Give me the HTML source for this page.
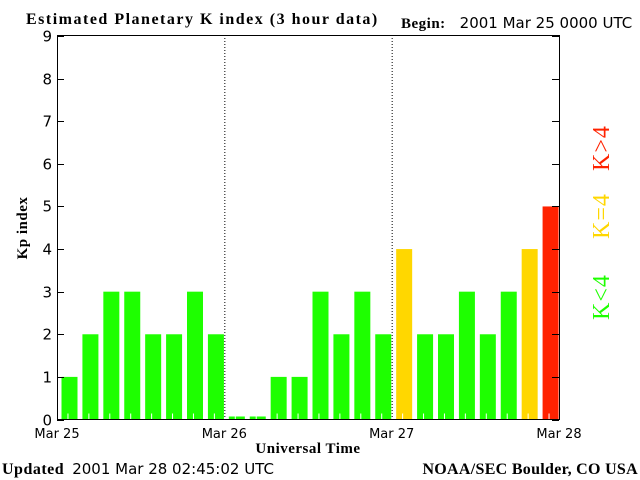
<!DOCTYPE html>
<html><head><meta charset="utf-8"><style>
body{margin:0;background:#fff;width:640px;height:480px;overflow:hidden}
svg{display:block}
.s{font-family:"DejaVu Sans","Liberation Sans",sans-serif;font-size:13px}
.b{font-family:"Liberation Serif",serif;font-weight:bold;font-size:14px}
</style></head><body>
<svg id="c" width="640" height="480">
<text class="b" x="26" y="24" style="font-size:16px;letter-spacing:1.5px">Estimated Planetary K index (3 hour data)</text>
<text x="401" y="28"><tspan class="b" style="font-size:15px;letter-spacing:0.5px">Begin:</tspan><tspan class="s" style="font-size:15px" dx="14">2001 Mar 25 0000 UTC</tspan></text>
<text x="2" y="474"><tspan class="b" style="font-size:16px;letter-spacing:0.5px">Updated</tspan><tspan class="s" style="font-size:15px" dx="8">2001 Mar 28 02:45:02 UTC</tspan></text>
<text class="b" x="638" y="474" text-anchor="end" style="font-size:16px;letter-spacing:0.3px">NOAA/SEC Boulder, CO USA</text>
<text class="b" transform="translate(27,228) rotate(-90)" text-anchor="middle" style="font-size:15px;letter-spacing:0.5px">Kp index</text>
<text class="b" x="308" y="453" text-anchor="middle" style="font-size:15px;letter-spacing:0.5px">Universal Time</text>
<text class="b" transform="translate(609,297) rotate(-90)" fill="#1eff00" text-anchor="middle" style="font-size:24px;font-weight:normal;letter-spacing:1px">K&lt;4</text>
<text class="b" transform="translate(609,216) rotate(-90)" fill="#ffd700" text-anchor="middle" style="font-size:24px;font-weight:normal;letter-spacing:1px">K=4</text>
<text class="b" transform="translate(609,148) rotate(-90)" fill="#ff2200" text-anchor="middle" style="font-size:24px;font-weight:normal;letter-spacing:1px">K&gt;4</text>
<g id="g"></g>
</svg>
<script>
const kpValues=[1,2,3,3,2,2,3,2, 0,0,1,1,3,2,3,2, 4,2,2,3,2,3,4,5];
const dayLabels=["Mar 25","Mar 26","Mar 27","Mar 28"];
const yTicks=[0,1,2,3,4,5,6,7,8,9];
const L=57,R=559,T=35,B=419.5;
const xs=i=>L+(R-L)*i/24;
const ys=v=>B-(B-36)*v/9;
const g=document.getElementById('g');
const NS='http://www.w3.org/2000/svg';
function mk(t,a){const e=document.createElementNS(NS,t);for(const k in a)e.setAttribute(k,a[k]);g.appendChild(e);return e;}
kpValues.forEach((v,i)=>{
  const col=v<4?'#1eff00':(v==4?'#ffd700':'#ff2200');
  const y=v===0?B-3:ys(v);
  const r=mk('rect',{x:xs(i)+4.5,y:y,width:16,height:B-y,fill:col});
  
  
  const t=mk('line',{x1:xs(i+0.5)+0.5,x2:xs(i+0.5)+0.5,y1:B-6,y2:B,stroke:'#fff'});
  
  
});
[1,2].forEach(d=>{
  const l=mk('line',{x1:xs(d*8)+0.5,x2:xs(d*8)+0.5,y1:T,y2:B,stroke:'#000','stroke-dasharray':'1,2'});
  
  
});
const ax=mk('rect',{x:L+0.5,y:T+0.5,width:R-L,height:B-T-0.5,fill:'none',stroke:'#000'});


yTicks.forEach(v=>{
  const y=Math.round(ys(v))+0.5;
  mk('line',{x1:L,x2:L+7,y1:y,y2:y,stroke:'#000'});
  mk('line',{x1:R-7,x2:R,y1:y,y2:y,stroke:'#000'});
  const t=mk('text',{x:L-5,y:y+5,'text-anchor':'end',class:'s',style:'font-size:15px'});
  t.textContent=v;
  
  
});
dayLabels.forEach((d,i)=>{
  const t=mk('text',{x:xs(i*8),y:438,'text-anchor':'middle',class:'s'});
  t.textContent=d;
  
  
});
</script>
</body></html>
